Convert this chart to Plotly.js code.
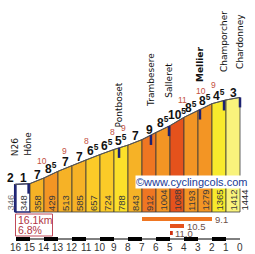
<!DOCTYPE html>
<html><head><meta charset="utf-8">
<script src="https://cdn.plot.ly/plotly-3.0.1.min.js"></script>
<style>html,body{margin:0;padding:0;background:#fff}#chart{width:255px;height:254px}</style>
</head><body><div id="chart"></div>
<script>
// ---- data ----
const kmToGo = [16.1, 16, 15, 14, 13, 12, 11, 10, 9, 8, 7, 6, 5, 4, 3, 2, 1, 0];
const elevations = [346, 348, 358, 429, 513, 585, 657, 724, 788, 843, 912, 1004, 1088, 1193, 1279, 1365, 1412, 1444];
const gradientLabels = [2, 1, 7, 8.5, 7, 7, 6.5, 6.5, 5.5, 7, 9, 8.5, 10.5, 8.5, 8.5, 4.5, 3];
const maxGradKm = [14.14, 12.57, 10.93, 9.14, 8.29, 4.14, 2.79, 1.86];
const maxGradVal = ['10', '9', '8', '8', '9', '11', '10', '9'];
const placeNames = ['N26', 'Hône', 'Pontboset', 'Trambesere', 'Salleret', 'Mellier', 'Champorcher', 'Chardonney'];
const placeKm = [16.1, 15.14, 8.64, 6.36, 5.07, 2.86, 1.14, 0];
const markerKm = [15.1, 8.64, 6.36, 5.07, 2.86, 1.14, 0];
const kmTicks = [16, 15, 14, 13, 12, 11, 10, 9, 8, 7, 6, 5, 4, 3, 2, 1, 0];
const totalDistance = '16.1km';
const avgGradient = '6.8%';
const steepFrom = [7, 5, 5];
const steepTo = [2, 4, 4.8];
const steepVal = ['9.1', '10.5', '11.0'];
const watermark = '©www.cyclingcols.com';

// ---- style helpers ----
const H = 254, W = 255;
const py = p => (H - p) / H;
const px = p => p / W;
const navy = '#1c2272';
function gradColor(g) {
  if (g < 2.5) return '#ffffff';
  if (g < 4) return '#f9f37c';
  if (g < 5) return '#f8ea2c';
  if (g < 6) return '#fce02a';
  if (g < 6.8) return '#fbcb28';
  if (g < 8) return '#f6b226';
  if (g < 9) return '#f39524';
  if (g < 10) return '#ef7622';
  if (g < 11) return '#e5521c';
  return '#d03010';
}
function elevAt(k) {
  for (let i = 0; i < kmToGo.length - 1; i++) {
    if (k <= kmToGo[i] && k >= kmToGo[i + 1]) {
      const t = (kmToGo[i] - k) / (kmToGo[i] - kmToGo[i + 1]);
      return elevations[i] + t * (elevations[i + 1] - elevations[i]);
    }
  }
  return elevations[elevations.length - 1];
}
const mPerPx = 12.6;

const traces = [];
for (let i = 0; i < kmToGo.length - 1; i++) {
  const k0 = kmToGo[i], k1 = kmToGo[i + 1];
  const g = (elevations[i + 1] - elevations[i]) / ((k0 - k1) * 10);
  const white = g < 2.5;
  traces.push({
    type: 'scatter', mode: 'lines', hoverinfo: 'skip',
    x: [k0, k0, k1, k1, k0], y: [0, elevations[i], elevations[i + 1], 0, 0],
    fill: 'toself', fillcolor: gradColor(g),
    line: {color: white ? navy : '#3a3a3a', width: white ? 1.3 : 0.8}
  });
}
traces.push({type: 'scatter', mode: 'lines', hoverinfo: 'skip', x: kmToGo, y: elevations,
  line: {color: '#555', width: 1}});
markerKm.forEach(k => {
  const e = elevAt(k);
  traces.push({type: 'scatter', mode: 'lines', hoverinfo: 'skip', x: [k, k], y: [e, e - 10 * mPerPx],
    line: {color: navy, width: 2.5}});
});

const ann = [];
const base = {showarrow: false, xref: 'x', yref: 'y'};
// gradient labels
gradientLabels.forEach((g, i) => {
  const km = (kmToGo[i] + kmToGo[i + 1]) / 2;
  const el = (elevations[i] + elevations[i + 1]) / 2;
  const txt = (g % 1) ? Math.floor(g) + '<sup>5</sup>' : String(g);
  ann.push(Object.assign({}, base, {x: km, y: el, text: '<b>' + txt + '</b>', yanchor: 'bottom', xanchor: 'center',
    xshift: i === 0 ? -5 : 0, yshift: -3,
    font: {family: 'Liberation Sans', size: 12, color: '#111'}}));
});
// red max gradient
maxGradKm.forEach((k, i) => {
  ann.push(Object.assign({}, base, {x: k, y: elevAt(k), text: maxGradVal[i], yanchor: 'middle', yshift: 18,
    font: {family: 'Liberation Sans', size: 8.5, color: '#c4503f'}}));
});
// place names
placeNames.forEach((n, i) => {
  const k = placeKm[i];
  ann.push(Object.assign({}, base, {x: k, y: elevAt(k), text: n === 'Mellier' ? '<b>' + n + '</b>' : n,
    textangle: -90, yanchor: 'bottom', xanchor: 'center', yshift: n === 'Pontboset' ? 18 : 26,
    font: {family: 'DejaVu Sans', size: 9, color: '#111'}}));
});
// elevation labels
elevations.forEach((e, i) => {
  let x, xs = 0, col = '#3a3a3a';
  if (i === 0) { x = kmToGo[0]; xs = -5; col = '#777'; }
  else if (i === elevations.length - 1) { x = kmToGo[i]; xs = 4; col = '#222'; }
  else x = (kmToGo[i] + kmToGo[i + 1]) / 2;
  ann.push(Object.assign({}, base, {x: x, y: 0, text: String(e), textangle: -90, yanchor: 'bottom',
    xanchor: 'center', xshift: xs, yshift: -1,
    font: {family: 'Liberation Sans', size: 9.5, color: col}}));
});
// km tick labels
kmTicks.forEach(k => {
  ann.push({showarrow: false, xref: 'x', yref: 'paper', x: k, y: py(247), yanchor: 'middle', text: String(k),
    font: {family: 'Liberation Sans', size: 10, color: '#333'}});
});
// watermark
ann.push({showarrow: false, xref: 'paper', yref: 'paper', x: px(191), y: py(182), xanchor: 'center', yanchor: 'middle',
  text: watermark, bgcolor: '#ffffff', borderpad: 0,
  font: {family: 'Liberation Sans', size: 11, color: '#1a3a96'}});
// summary box
const shapes = [];
shapes.push({type: 'rect', xref: 'paper', yref: 'paper', x0: px(15.5), x1: px(52.5), y0: py(236), y1: py(214),
  line: {color: '#c04a5a', width: 1}, fillcolor: 'rgba(0,0,0,0)'});
[[totalDistance, 220], [avgGradient, 230]].forEach(([t, y]) => {
  ann.push({showarrow: false, xref: 'paper', yref: 'paper', x: px(17), y: py(y), xanchor: 'left', yanchor: 'middle',
    text: t, borderpad: 0, font: {family: 'Liberation Sans', size: 10.5, color: '#b03444'}});
});
// steep bars
const barRows = [[217, 221], [224, 228], [231, 235]];
steepVal.forEach((v, i) => {
  const g = parseFloat(v);
  shapes.push({type: 'rect', xref: 'x', yref: 'paper', x0: steepFrom[i], x1: steepTo[i],
    y0: py(barRows[i][1]), y1: py(barRows[i][0]), fillcolor: gradColor(g), line: {width: 0}});
  ann.push({showarrow: false, xref: 'x', yref: 'paper', x: steepTo[i], y: py((barRows[i][0] + barRows[i][1]) / 2),
    xanchor: 'left', yanchor: 'middle', xshift: 1.5, text: v, borderpad: 0,
    font: {family: 'Liberation Sans', size: 9.5, color: '#6b4f48'}});
});
// scale bar
shapes.push({type: 'line', xref: 'x', yref: 'paper', x0: kmTicks[0], x1: kmTicks[kmTicks.length - 1],
  y0: py(239), y1: py(239), line: {color: '#000', width: 1}});
for (let i = 0; i < kmTicks.length - 1; i += 2) {
  shapes.push({type: 'rect', xref: 'x', yref: 'paper', x0: kmTicks[i], x1: kmTicks[i + 1],
    y0: py(241), y1: py(237), fillcolor: '#000', line: {width: 0}});
}

const layout = {
  width: 255, height: 254, margin: {l: 0, r: 0, t: 0, b: 0},
  paper_bgcolor: '#fff', plot_bgcolor: '#fff', showlegend: false,
  xaxis: {range: [16 + 16 / 14, 16 - (255 - 16) / 14], visible: false, fixedrange: true},
  yaxis: {range: [-(H - 212) * mPerPx, 212 * mPerPx], visible: false, fixedrange: true},
  annotations: ann, shapes: shapes,
  font: {family: 'Liberation Sans'}
};
Plotly.newPlot('chart', traces, layout, {displayModeBar: false, staticPlot: true});
</script>
</body></html>
